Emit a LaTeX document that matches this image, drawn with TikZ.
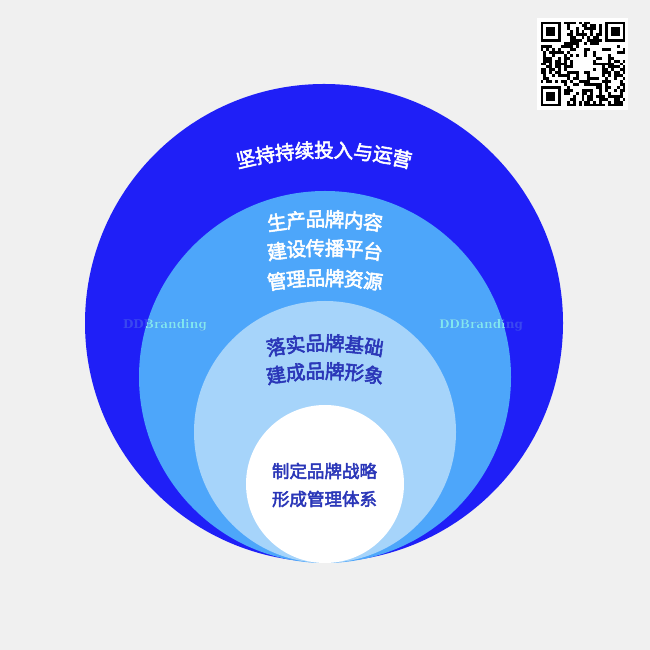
\documentclass[tikz,border=0pt]{standalone}
\usepackage{fontspec}
\newfontfamily\cjk{Noto Sans CJK SC}[FakeBold=2.8]
\newfontfamily\slab{DejaVu Serif}
\definecolor{paper}{HTML}{F0F0F0}
\definecolor{ringA}{HTML}{1F1FF7}
\definecolor{ringB}{HTML}{4DA6FA}
\definecolor{ringC}{HTML}{A6D4FA}
\definecolor{inkdark}{HTML}{2A36B8}
\definecolor{wmlight}{HTML}{7FE8F0}
\definecolor{wmdim}{HTML}{3A48F0}
% #1 name, #2/#3 arc centre, #4 radius, #5 step, #6 count, #7 colour, #8 characters
\newcommand\bendline[8]{%
  \foreach \ch [count=\k from 0] in {#8} {
    \pgfmathsetmacro\a{90+((#6-1)/2-\k)*#5/#4*180/pi}
    \node[cjktext, text=#7, rotate=\a-90] (#1\k) at ([shift={(#2,#3)}]\a:#4) {\ch};
  }}
\begin{document}
\begin{tikzpicture}[x=1pt,y=1pt,
  cjktext/.style={inner sep=0pt, font=\cjk\fontsize{19.5}{20}\selectfont},
  flattext/.style={inner sep=0pt, text=inkdark, font=\cjk\fontsize{17.5}{18}\selectfont},
  wmark/.style={inner sep=0pt, text=wmlight, font=\slab\bfseries\fontsize{12}{12}\selectfont}]
\useasboundingbox (0,0) rectangle (650,650);
\fill[paper] (0,0) rectangle (650,650);
\fill[ringA] (324,327) circle (239pt);
\fill[ringB] (325,273) circle (186pt);
\fill[ringC] (325,218) circle (131pt);
\fill[white] (325,166) circle (79pt);
\node[wmark, text=wmdim] (wmL) at (165,325) {DDBranding};
\node[wmark, text=wmdim] (wmR) at (481,325) {DDBranding};
\begin{scope}
  \clip (325,273) circle (186pt);
  \node[wmark] (wmLc) at (165,325) {DDBranding};
  \node[wmark] (wmRc) at (481,325) {DDBranding};
\end{scope}
\bendline{run}{324}{150}{350}{19.7}{9}{white}{坚,持,持,续,投,入,与,运,营}
\bendline{make}{325}{71}{360}{19.3}{6}{white}{生,产,品,牌,内,容}
\bendline{build}{325}{42}{360}{19.3}{6}{white}{建,设,传,播,平,台}
\bendline{keep}{325}{12}{360}{19.3}{6}{white}{管,理,品,牌,资,源}
\bendline{base}{325}{7}{300}{19.7}{6}{inkdark}{落,实,品,牌,基,础}
\bendline{image}{325}{-21}{300}{19.7}{6}{inkdark}{建,成,品,牌,形,象}
\node[flattext] (plan) at (324.5,179) {制定品牌战略};
\node[flattext] (system) at (324.5,151) {形成管理体系};
\fill[white] (537,540) rectangle (628,632);
\begin{scope}[shift={(540.5,543.5)}, x=2.93pt, y=2.93pt]
  \pgfmathsetseed{11}
  \foreach \i in {0,...,28} \foreach \j in {0,...,28} {
    \pgfmathtruncatemacro\on{(rnd<0.5) && !((\i<8) && (\j>20)) && !((\i>20) && (\j>20)) && !((\i<8) && (\j<8)) && !((\i>10) && (\i<18) && (\j>11) && (\j<17))}
    \ifnum\on=1 \fill (\i,\j) rectangle ++(1,1); \fi
  }
  \foreach \p in {(0,22),(22,22),(0,0)} {
    \fill \p rectangle ++(7,7);
    \fill[white] \p ++(1,1) rectangle ++(5,5);
    \fill \p ++(2,2) rectangle ++(3,3);
  }
\end{scope}
\end{tikzpicture}
\end{document}
